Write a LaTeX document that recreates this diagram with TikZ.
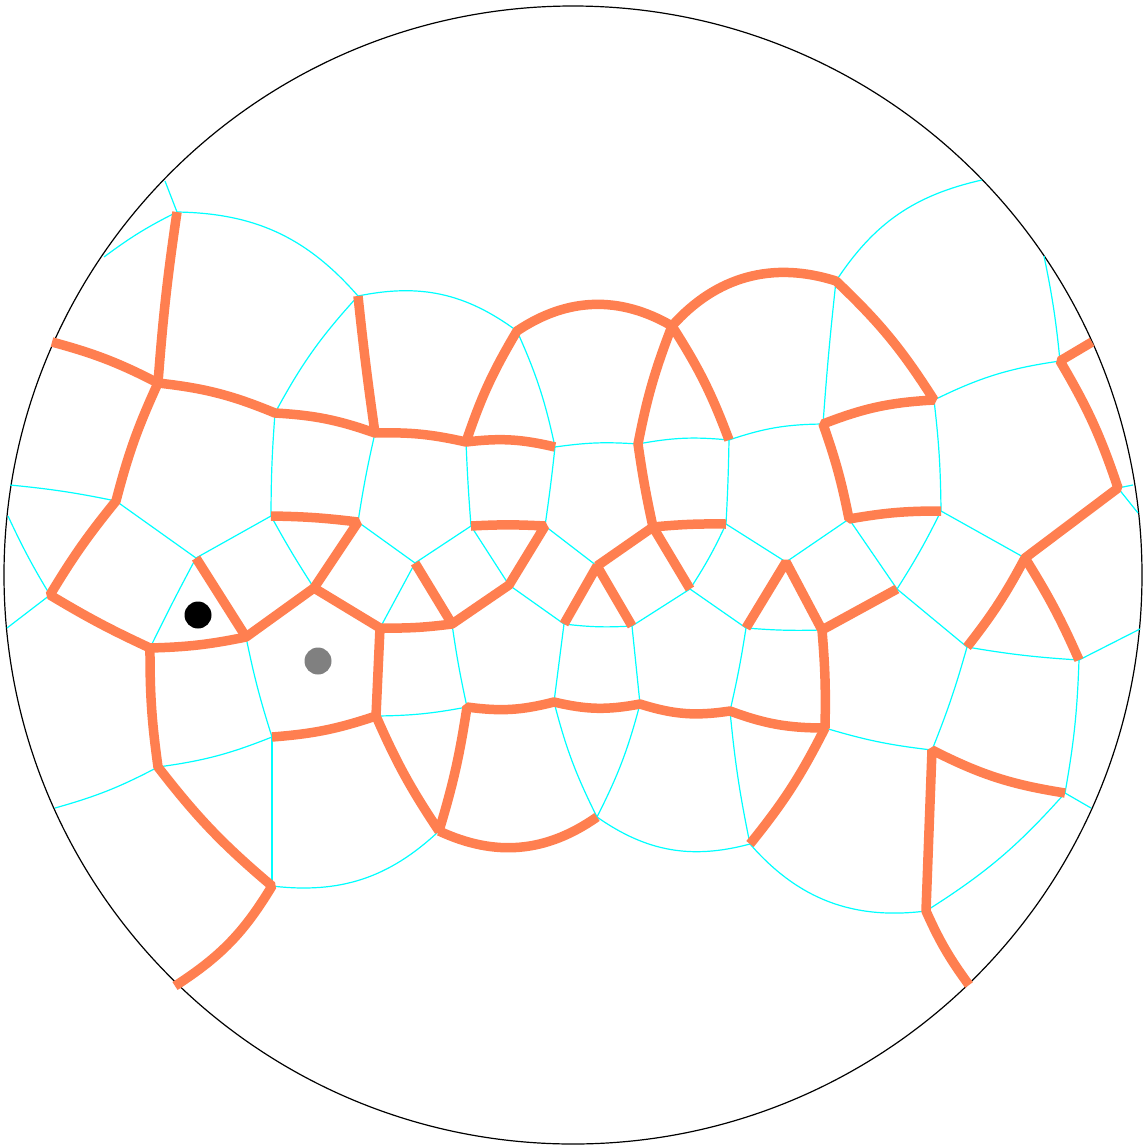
\documentclass[tikz,border=0pt]{standalone}
\usepackage{tikz}

\definecolor{cutcol}{HTML}{FF7F50}
\definecolor{tilecol}{HTML}{00FFFF}

\tikzset{
	tile/.style={tilecol, line width=0.024cm},
	cut/.style={cutcol, line width=0.19cm, line join=bevel},
}

\begin{document}
\begin{tikzpicture}[x=0.02cm, y=-0.02cm]

	\useasboundingbox (0, 0) rectangle (1143, 1147);

	% Cerchio esterno
	\draw[black, line width=0.024cm] (573, 575) circle (569);

	% --- VERTICI ---
	\coordinate (n1) at (177, 212);
	\coordinate (n2) at (358, 296);
	\coordinate (n3) at (517, 331);
	\coordinate (n4) at (672, 326);
	\coordinate (n5) at (836, 281);

	\coordinate (b1) at (158, 383);
	\coordinate (b2) at (275, 413);
	\coordinate (b3) at (375, 433);
	\coordinate (b4) at (466, 442);
	\coordinate (b5) at (555, 447);
	\coordinate (b6) at (638, 444);
	\coordinate (b7) at (729, 440);
	\coordinate (b8) at (823, 424);
	\coordinate (b9) at (934, 400);
	\coordinate (b10) at (1060, 361);

	\coordinate (c1) at (116, 501);
	\coordinate (c2) at (271, 516);
	\coordinate (c3) at (358, 522);
	\coordinate (c4) at (471, 526);
	\coordinate (c5) at (545, 526);
	\coordinate (c6) at (653, 527);
	\coordinate (c7) at (726, 524);
	\coordinate (c8) at (849, 519);
	\coordinate (c9) at (941, 511);
	\coordinate (c10) at (1118, 488);

	\coordinate (d0) at (50, 595);
	\coordinate (d1) at (196, 558);
	\coordinate (d2) at (314, 588);
	\coordinate (d3) at (415, 563);
	\coordinate (d4) at (509, 585);
	\coordinate (d5) at (597, 566);
	\coordinate (d6) at (690, 589);
	\coordinate (d7) at (786, 562);
	\coordinate (d8) at (897, 589);
	\coordinate (d9) at (1025, 558);

	\coordinate (e1) at (150, 648);
	\coordinate (e2) at (246, 637);
	\coordinate (e3) at (380, 628);
	\coordinate (e4) at (452, 624);
	\coordinate (e5) at (564, 624);
	\coordinate (e6) at (632, 626);
	\coordinate (e7) at (746, 628);
	\coordinate (e8) at (822, 630);
	\coordinate (e9) at (967, 647);
	\coordinate (e10) at (1079, 660);

	\coordinate (f0) at (158, 767);
	\coordinate (f1) at (272, 737);
	\coordinate (f2) at (376, 716);
	\coordinate (f3) at (467, 707);
	\coordinate (f4) at (554, 702);
	\coordinate (f5) at (640, 704);
	\coordinate (f6) at (730, 711);
	\coordinate (f7) at (825, 728);
	\coordinate (f8) at (932, 750);
	\coordinate (f9) at (1065, 793);

	\coordinate (g1) at (439, 831);
	\coordinate (g2) at (597, 817);
	\coordinate (g3) at (750, 844);
	\coordinate (g4) at (272, 886);
	\coordinate (g5) at (926, 911);

	% Estremi liberi sul bordo
	\coordinate (o1) at (165, 181);
	\coordinate (o2) at (104, 257);
	\coordinate (o3) at (982, 180);
	\coordinate (o4) at (1044, 256);
	\coordinate (o5) at (10, 485);
	\coordinate (o6) at (8, 516);
	\coordinate (o7) at (7, 628);
	\coordinate (o8) at (1133, 485);
	\coordinate (o9) at (1138, 513);
	\coordinate (o10) at (1140, 629);
	\coordinate (o11) at (1091, 808);
	\coordinate (o12) at (55, 808);
	\coordinate (o13) at (52, 342);
	\coordinate (o14) at (1092, 342);
	\coordinate (o15) at (175, 986);
	\coordinate (o16) at (969, 985);

	% --- LATI SOTTILI ---
	\draw[tile] (o1) -- (n1);
	\draw[tile] (o2) to[bend left=5] (n1);
	\draw[tile] (n1) to[bend left=24] (n2);
	\draw[tile] (n2) to[bend left=24] (n3);
	\draw[tile] (n3) to[bend left=6] (b5);
	\draw[tile] (b2) to[bend left=7] (n2);
	\draw[tile] (b2) to[bend right=2] (c2);
	\draw[tile] (b3) to[bend right=2] (c3);
	\draw[tile] (b4) to[bend right=1] (c4);
	\draw[tile] (b5) to[bend left=1] (c5);
	\draw[tile] (b5) to[bend left=6] (b6);
	\draw[tile] (b6) to[bend left=8] (b7);
	\draw[tile] (b7) to[bend left=9] (b8);
	\draw[tile] (b7) to[bend left=1] (c7);
	\draw[tile] (b8) to[bend left=1] (n5);
	\draw[tile] (n5) to[bend left=22] (o3);
	\draw[tile] (b9) to[bend left=9] (b10);
	\draw[tile] (o4) to[bend left=3] (b10);
	\draw[tile] (b9) to[bend left=3] (c9);
	\draw[tile] (c9) to[bend left=3] (d8);
	\draw[tile] (c9) -- (d9);
	\draw[tile] (c8) -- (d7);
	\draw[tile] (c8) -- (d8);
	\draw[tile] (c7) -- (d7);
	\draw[tile] (c7) to[bend left=4] (d6);
	\draw[tile] (c5) -- (d5);
	\draw[tile] (c4) -- (d3);
	\draw[tile] (c4) -- (d4);
	\draw[tile] (c3) -- (d3);
	\draw[tile] (d3) -- (e3);
	\draw[tile] (d4) -- (e5);
	\draw[tile] (e5) to[bend right=5] (e6);
	\draw[tile] (e6) -- (d6);
	\draw[tile] (d6) -- (e7);
	\draw[tile] (e7) to[bend right=3] (e8);
	\draw[tile] (d8) -- (e9);
	\draw[tile] (e9) to[bend right=3] (e10);
	\draw[tile] (e10) -- (o10);
	\draw[tile] (e9) to[bend left=3] (f8);
	\draw[tile] (e10) to[bend left=4] (f9);
	\draw[tile] (f9) -- (o11);
	\draw[tile] (f9) to[bend left=8] (g5);
	\draw[tile] (f8) to[bend left=5] (f7);
	\draw[tile] (g3) to[bend right=28] (g5);
	\draw[tile] (f6) to[bend right=3] (g3);
	\draw[tile] (g2) to[bend right=25] (g3);
	\draw[tile] (f4) to[bend right=6] (g2);
	\draw[tile] (f5) to[bend left=6] (g2);
	\draw[tile] (e5) -- (f4);
	\draw[tile] (e6) -- (f5);
	\draw[tile] (e7) to[bend left=2] (f6);
	\draw[tile] (e4) to[bend right=2] (f3);
	\draw[tile] (f2) to[bend right=5] (f3);
	\draw[tile] (g4) to[bend right=25] (g1);
	\draw[tile] (f1) -- (g4);
	\draw[tile] (f1) to[bend left=3] (e2);
	\draw[tile] (f1) to[bend left=7] (f0);
	\draw[tile] (f0) to[bend left=6] (o12);
	\draw[tile] (e1) to[bend left=1] (d1);
	\draw[tile] (d1) -- (c1);
	\draw[tile] (d1) -- (c2);
	\draw[tile] (c2) to[bend right=2] (d2);
	\draw[tile] (c1) to[bend right=3] (o5);
	\draw[tile] (d0) to[bend left=3] (o6);
	\draw[tile] (d0) -- (o7);
	\draw[tile] (c10) -- (o8);
	\draw[tile] (c10) -- (o9);

	% --- LATI SPESSI ---
	\draw[cut] (n1) to[bend right=2] (b1);
	\draw[cut] (o13) to[bend left=6] (b1) to[bend left=8] (b2) to[bend left=8] (b3) to[bend left=7] (b4) to[bend left=10] (b5);
	\draw[cut] (n2) to[bend right=1] (b3);
	\draw[cut] (b1) to[bend right=5] (c1) to[bend right=4] (d0) to[bend right=3] (e1) to[bend right=5] (e2) -- (d2) -- (e3) to[bend right=4] (e4) -- (d4) -- (c5) to[bend right=3] (c4);
	\draw[cut] (c2) to[bend left=3] (c3) -- (d2);
	\draw[cut] (d1) -- (e2);
	\draw[cut] (d3) -- (e4);
	\draw[cut] (e1) to[bend right=4] (f0) to[bend right=6] (g4) to[bend left=13] (o15);
	\draw[cut] (f1) to[bend right=7] (f2) -- (e3);
	\draw[cut] (f2) to[bend right=5] (g1) to[bend right=4] (f3) to[bend right=11] (f4) to[bend right=12] (f5) to[bend right=13] (f6) to[bend right=10] (f7) to[bend right=3] (e8) -- (d7) -- (e7);
	\draw[cut] (g1) to[bend right=30] (g2);
	\draw[cut] (f7) to[bend left=6] (g3);
	\draw[cut] (e8) -- (d8);
	\draw[cut] (e5) -- (d5) -- (e6);
	\draw[cut] (d5) -- (c6) -- (d6);
	\draw[cut] (c6) to[bend left=3] (c7);
	\draw[cut] (c6) to[bend left=2] (b6) to[bend left=5] (n4) to[bend left=6] (b7);
	\draw[cut] (n4) to[bend right=32] (n3) to[bend right=6] (b4);
	\draw[cut] (n4) to[bend left=33] (n5) to[bend left=7] (b9) to[bend right=9] (b8) to[bend left=4] (c8) to[bend left=5] (c9);
	\draw[cut] (o14) -- (b10) to[bend left=6] (c10) -- (d9) to[bend left=5] (e9);
	\draw[cut] (d9) to[bend left=4] (e10);
	\draw[cut] (f9) to[bend left=9] (f8) -- (g5) to[bend right=6] (o16);

	% --- PUNTI ---
	\fill[black] (198, 615) circle (13.5);
	\fill[gray] (318, 661) circle (13.5);

\end{tikzpicture}
\end{document}
